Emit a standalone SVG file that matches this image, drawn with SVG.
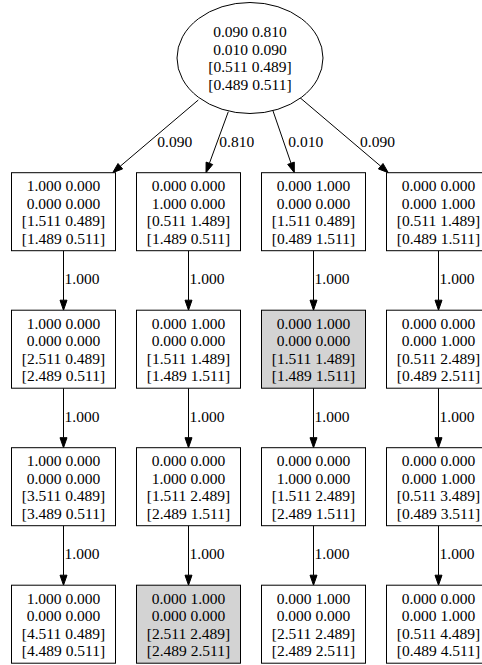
<svg xmlns="http://www.w3.org/2000/svg" width="482" height="665" viewBox="0 0 482 665">
<style>
text{font-family:"Liberation Serif","Times New Roman",serif;font-size:15.5px;fill:#000}
.n text{text-anchor:middle}
.n rect,.n ellipse{fill:#fff;stroke:#000;stroke-width:1}
.n.g rect{fill:#d3d3d3}
.e line{stroke:#000;stroke-width:1}
.e polygon{fill:#000;stroke:#000;stroke-width:1}
</style>
<rect width="482" height="665" fill="#fff"/>
<g id="edges" class="e">
<line x1="198.3" y1="100" x2="120.3" y2="166.2"/><polygon points="112.7,172.7 122.6,168.9 118,163.5"/>
<text x="157.3" y="147.3">0.090</text>
<line x1="228.3" y1="111.7" x2="209.4" y2="163.3"/><polygon points="206,172.7 212.7,164.5 206.1,162.1"/>
<text x="219.3" y="147.3">0.810</text>
<line x1="272.7" y1="110" x2="291" y2="163.2"/><polygon points="294.3,172.7 294.3,162.1 287.7,164.4"/>
<text x="288.3" y="147.3">0.010</text>
<line x1="300" y1="97.7" x2="380.7" y2="166.2"/><polygon points="388.3,172.7 383,163.5 378.4,168.9"/>
<text x="360" y="147.3">0.090</text>

<line x1="63.5" y1="250.7" x2="63.5" y2="300.2"/><polygon points="63.5,310.2 60,300.2 67,300.2"/><text x="64.5" y="284.3">1.000</text>
<line x1="63.5" y1="388.2" x2="63.5" y2="437.7"/><polygon points="63.5,447.7 60,437.7 67,437.7"/><text x="64.5" y="421.8">1.000</text>
<line x1="63.5" y1="525.7" x2="63.5" y2="575.2"/><polygon points="63.5,585.2 60,575.2 67,575.2"/><text x="64.5" y="559.3">1.000</text>

<line x1="188.5" y1="250.7" x2="188.5" y2="300.2"/><polygon points="188.5,310.2 185,300.2 192,300.2"/><text x="189.5" y="284.3">1.000</text>
<line x1="188.5" y1="388.2" x2="188.5" y2="437.7"/><polygon points="188.5,447.7 185,437.7 192,437.7"/><text x="189.5" y="421.8">1.000</text>
<line x1="188.5" y1="525.7" x2="188.5" y2="575.2"/><polygon points="188.5,585.2 185,575.2 192,575.2"/><text x="189.5" y="559.3">1.000</text>

<line x1="313.5" y1="250.7" x2="313.5" y2="300.2"/><polygon points="313.5,310.2 310,300.2 317,300.2"/><text x="314.5" y="284.3">1.000</text>
<line x1="313.5" y1="388.2" x2="313.5" y2="437.7"/><polygon points="313.5,447.7 310,437.7 317,437.7"/><text x="314.5" y="421.8">1.000</text>
<line x1="313.5" y1="525.7" x2="313.5" y2="575.2"/><polygon points="313.5,585.2 310,575.2 317,575.2"/><text x="314.5" y="559.3">1.000</text>

<line x1="438.5" y1="250.7" x2="438.5" y2="300.2"/><polygon points="438.5,310.2 435,300.2 442,300.2"/><text x="439.5" y="284.3">1.000</text>
<line x1="438.5" y1="388.2" x2="438.5" y2="437.7"/><polygon points="438.5,447.7 435,437.7 442,437.7"/><text x="439.5" y="421.8">1.000</text>
<line x1="438.5" y1="525.7" x2="438.5" y2="575.2"/><polygon points="438.5,585.2 435,575.2 442,575.2"/><text x="439.5" y="559.3">1.000</text>
</g>

<g id="root" class="n">
<ellipse cx="250" cy="58" rx="73" ry="55.5"/>
<text x="250" y="37.3">0.090 0.810</text>
<text x="250" y="54.7">0.010 0.090</text>
<text x="250" y="72.1">[0.511 0.489]</text>
<text x="250" y="89.5">[0.489 0.511]</text>
</g>

<g id="c1r1" class="n"><rect x="11.5" y="172.7" width="104" height="78"/>
<text x="63.5" y="191.3">1.000 0.000</text><text x="63.5" y="208.7">0.000 0.000</text><text x="63.5" y="226.1">[1.511 0.489]</text><text x="63.5" y="243.5">[1.489 0.511]</text></g>
<g id="c1r2" class="n"><rect x="11.5" y="310.2" width="104" height="78"/>
<text x="63.5" y="328.8">1.000 0.000</text><text x="63.5" y="346.2">0.000 0.000</text><text x="63.5" y="363.6">[2.511 0.489]</text><text x="63.5" y="381">[2.489 0.511]</text></g>
<g id="c1r3" class="n"><rect x="11.5" y="447.7" width="104" height="78"/>
<text x="63.5" y="466.3">1.000 0.000</text><text x="63.5" y="483.7">0.000 0.000</text><text x="63.5" y="501.1">[3.511 0.489]</text><text x="63.5" y="518.5">[3.489 0.511]</text></g>
<g id="c1r4" class="n"><rect x="11.5" y="585.2" width="104" height="78"/>
<text x="63.5" y="603.8">1.000 0.000</text><text x="63.5" y="621.2">0.000 0.000</text><text x="63.5" y="638.6">[4.511 0.489]</text><text x="63.5" y="656">[4.489 0.511]</text></g>

<g id="c2r1" class="n"><rect x="136.5" y="172.7" width="104" height="78"/>
<text x="188.5" y="191.3">0.000 0.000</text><text x="188.5" y="208.7">1.000 0.000</text><text x="188.5" y="226.1">[0.511 1.489]</text><text x="188.5" y="243.5">[1.489 0.511]</text></g>
<g id="c2r2" class="n"><rect x="136.5" y="310.2" width="104" height="78"/>
<text x="188.5" y="328.8">0.000 1.000</text><text x="188.5" y="346.2">0.000 0.000</text><text x="188.5" y="363.6">[1.511 1.489]</text><text x="188.5" y="381">[1.489 1.511]</text></g>
<g id="c2r3" class="n"><rect x="136.5" y="447.7" width="104" height="78"/>
<text x="188.5" y="466.3">0.000 0.000</text><text x="188.5" y="483.7">1.000 0.000</text><text x="188.5" y="501.1">[1.511 2.489]</text><text x="188.5" y="518.5">[2.489 1.511]</text></g>
<g id="c2r4" class="n g"><rect x="136.5" y="585.2" width="104" height="78"/>
<text x="188.5" y="603.8">0.000 1.000</text><text x="188.5" y="621.2">0.000 0.000</text><text x="188.5" y="638.6">[2.511 2.489]</text><text x="188.5" y="656">[2.489 2.511]</text></g>

<g id="c3r1" class="n"><rect x="261.5" y="172.7" width="104" height="78"/>
<text x="313.5" y="191.3">0.000 1.000</text><text x="313.5" y="208.7">0.000 0.000</text><text x="313.5" y="226.1">[1.511 0.489]</text><text x="313.5" y="243.5">[0.489 1.511]</text></g>
<g id="c3r2" class="n g"><rect x="261.5" y="310.2" width="104" height="78"/>
<text x="313.5" y="328.8">0.000 1.000</text><text x="313.5" y="346.2">0.000 0.000</text><text x="313.5" y="363.6">[1.511 1.489]</text><text x="313.5" y="381">[1.489 1.511]</text></g>
<g id="c3r3" class="n"><rect x="261.5" y="447.7" width="104" height="78"/>
<text x="313.5" y="466.3">0.000 0.000</text><text x="313.5" y="483.7">1.000 0.000</text><text x="313.5" y="501.1">[1.511 2.489]</text><text x="313.5" y="518.5">[2.489 1.511]</text></g>
<g id="c3r4" class="n"><rect x="261.5" y="585.2" width="104" height="78"/>
<text x="313.5" y="603.8">0.000 1.000</text><text x="313.5" y="621.2">0.000 0.000</text><text x="313.5" y="638.6">[2.511 2.489]</text><text x="313.5" y="656">[2.489 2.511]</text></g>

<g id="c4r1" class="n"><rect x="386.5" y="172.7" width="104" height="78"/>
<text x="438.5" y="191.3">0.000 0.000</text><text x="438.5" y="208.7">0.000 1.000</text><text x="438.5" y="226.1">[0.511 1.489]</text><text x="438.5" y="243.5">[0.489 1.511]</text></g>
<g id="c4r2" class="n"><rect x="386.5" y="310.2" width="104" height="78"/>
<text x="438.5" y="328.8">0.000 0.000</text><text x="438.5" y="346.2">0.000 1.000</text><text x="438.5" y="363.6">[0.511 2.489]</text><text x="438.5" y="381">[0.489 2.511]</text></g>
<g id="c4r3" class="n"><rect x="386.5" y="447.7" width="104" height="78"/>
<text x="438.5" y="466.3">0.000 0.000</text><text x="438.5" y="483.7">0.000 1.000</text><text x="438.5" y="501.1">[0.511 3.489]</text><text x="438.5" y="518.5">[0.489 3.511]</text></g>
<g id="c4r4" class="n"><rect x="386.5" y="585.2" width="104" height="78"/>
<text x="438.5" y="603.8">0.000 0.000</text><text x="438.5" y="621.2">0.000 1.000</text><text x="438.5" y="638.6">[0.511 4.489]</text><text x="438.5" y="656">[0.489 4.511]</text></g>
</svg>
